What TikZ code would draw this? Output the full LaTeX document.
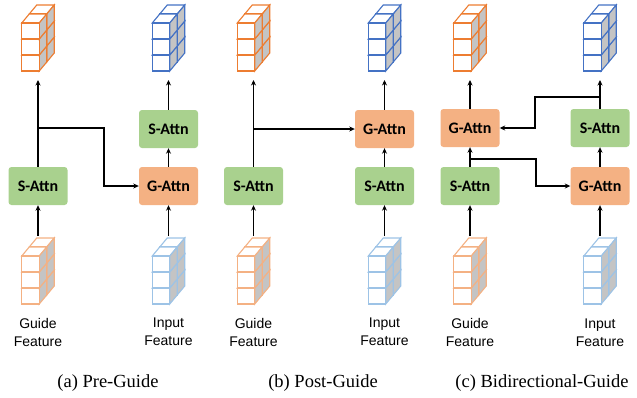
\documentclass[tikz,border=0pt]{standalone}
\usepackage{fontspec}
\setmainfont{Liberation Serif}
\newfontfamily\labfont{Liberation Sans}
\newfontfamily\boxfont{Carlito}
\usetikzlibrary{arrows.meta}
\definecolor{gfill}{HTML}{A9D18E}
\definecolor{ofill}{HTML}{F4B183}
\definecolor{orgA}{HTML}{ED7D31}
\definecolor{orgB}{HTML}{F4B183}
\definecolor{bluA}{HTML}{4472C4}
\definecolor{bluB}{HTML}{9DC3E6}
\definecolor{cubegray}{HTML}{C4C4C4}
\tikzset{
  attn/.style={minimum width=59pt,minimum height=38pt,rounded corners=3pt,inner sep=0pt,
    font=\boxfont\bfseries\fontsize{16}{18}\selectfont},
  sattn/.style={attn,fill=gfill},
  gattn/.style={attn,fill=ofill},
  arr/.style={line width=1.3pt,-{Stealth[length=5.5pt,width=5pt]}},
  cubeline/.style={line width=1.1pt,line join=miter},
  lab/.style={align=center,font=\labfont\fontsize{14}{18}\selectfont},
  captext/.style={font=\fontsize{18.5}{22}\selectfont}
}
\newcommand\featcube[3]{%
  \foreach \d in {1,0}{\foreach \r in {2,1,0}{%
    \pgfmathsetmacro\px{#1-16.25+\d*7.5}%
    \pgfmathsetmacro\py{#2+18+\r*16-\d*9}%
    \draw[cubeline,draw=#3,fill=white] (\px,\py) -- ++(7.5,-9) -- ++(17.5,0) -- ++(-7.5,9) -- cycle;
    \draw[cubeline,draw=#3,fill=cubegray] ({\px+17.5},\py) -- ++(7.5,-9) -- ++(0,16) -- ++(-7.5,9) -- cycle;
    \draw[cubeline,draw=#3,fill=white] (\px,\py) rectangle ++(17.5,16);
  }}%
}
\begin{document}
\begin{tikzpicture}[x=1pt,y=-1pt]
\useasboundingbox (0,0) rectangle (637,397);

% ---------- cubes ----------
\featcube{38}{5}{orgA}
\featcube{168.5}{5}{bluA}
\featcube{38}{238}{orgB}
\featcube{168.5}{238}{bluB}
\featcube{253.5}{5}{orgA}
\featcube{384.5}{5}{bluA}
\featcube{253.5}{238}{orgB}
\featcube{384.5}{238}{bluB}
\featcube{470}{5}{orgA}
\featcube{600}{5}{bluA}
\featcube{470}{238}{orgB}
\featcube{600}{238}{bluB}

% cube anchor coordinates
\foreach \n/\x in {a1/38,a2/168.5,b1/253.5,b2/384.5,c1/470,c2/600}{
  \coordinate (\n out) at (\x,80);
  \coordinate (\n in) at (\x,236);
}

% ---------- (a) ----------
\node[sattn] (aS) at (38,186) {S-Attn};
\node[gattn] (aG) at (168.5,186) {G-Attn};
\node[sattn] (aS2) at (168.5,129) {S-Attn};
\coordinate (aJ) at (104,128);
\draw[arr] (a1in) -- (aS.south);
\draw[arr] (aS.north) -- (a1out);
\draw[arr] (aS.north |- aJ) -- (aJ) |- (aG.west);
\draw[arr] (a2in) -- (aG.south);
\draw[arr] (aG.north) -- (aS2.south);
\draw[arr] (aS2.north) -- (a2out);

% ---------- (b) ----------
\node[sattn] (bS) at (253.5,186) {S-Attn};
\node[sattn] (bS2) at (384.5,186) {S-Attn};
\node[gattn] (bG) at (384.5,129) {G-Attn};
\draw[arr] (b1in) -- (bS.south);
\draw[arr] (bS.north) -- (b1out);
\draw[arr] (bS.north |- bG.west) -- (bG.west);
\draw[arr] (b2in) -- (bS2.south);
\draw[arr] (bS2.north) -- (bG.south);
\draw[arr] (bG.north) -- (b2out);

% ---------- (c) ----------
\node[sattn] (cS) at (470,186) {S-Attn};
\node[gattn] (cG) at (470,128) {G-Attn};
\node[sattn] (cS2) at (600,128) {S-Attn};
\node[gattn] (cG2) at (600,186) {G-Attn};
\coordinate (cJ1) at (535,97);
\coordinate (cJ2) at (536,159);
\draw[arr] (c1in) -- (cS.south);
\draw[arr] (cS.north) -- (cG.south);
\draw[arr] (cG.north) -- (c1out);
\draw[arr] (c2in) -- (cG2.south);
\draw[arr] (cG2.north) -- (cS2.south);
\draw[arr] (cS2.north) -- (c2out);
\draw[arr] (cS2.north |- cJ1) -- (cJ1) |- (cG.east);
\draw[arr] (cS.north |- cJ2) -- (cJ2) |- (cG2.west);

% ---------- labels ----------
\node[lab] (la1) at (38,332) {Guide\\Feature};
\node[lab] (la2) at (168.5,332) {Input\\Feature};
\node[lab] (lb1) at (253.5,332) {Guide\\Feature};
\node[lab] (lb2) at (384.5,332) {Input\\Feature};
\node[lab] (lc1) at (470,332) {Guide\\Feature};
\node[lab] (lc2) at (600,333) {Input\\Feature};

% ---------- captions ----------
\node[captext] (capa) at (108,383) {(a) Pre-Guide};
\node[captext] (capb) at (323,383) {(b) Post-Guide};
\node[captext] (capc) at (542,383) {(c) Bidirectional-Guide};
\end{tikzpicture}
\end{document}
